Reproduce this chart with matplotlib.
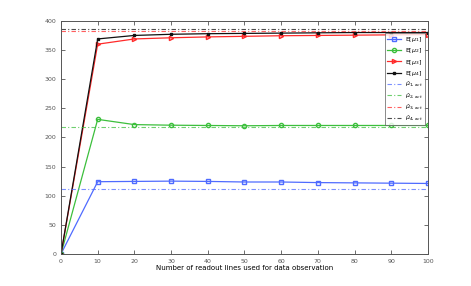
import numpy as np
import matplotlib.pyplot as plt

# lignes de lecture
lines = [0, 10, 20, 30, 40, 50, 60, 70, 80, 90, 100]

mu1 = [0, 124, 124.5, 125, 124.5, 123.5, 123.5, 122.5, 122, 121.5, 121]
mu2 = [0, 231, 222, 221, 220.5, 220, 220.5, 220.5, 220.5, 220.5, 220.5]
mu3 = [0, 360, 369, 371, 372.5, 373.5, 374.5, 375, 375.5, 376, 376.5]
mu4 = [0, 369, 375, 377, 378, 378.5, 379, 379.5, 380, 380, 380]

act = [111, 218, 382, 386]

colors = ['#4f6bff', '#3cbf3c', '#ff2a2a', '#111111']
markers = ['s', 'o', '>', 's']
sizes = [3, 3, 3, 2]
labels = [r'E[$\mu_1$]', r'E[$\mu_2$]', r'E[$\mu_3$]', r'E[$\mu_4$]']
act_labels = [r'$\hat{\mu}_{1,act}$', r'$\hat{\mu}_{2,act}$',
              r'$\hat{\mu}_{3,act}$', r'$\hat{\mu}_{4,act}$']

fig = plt.figure(figsize=(4.71, 2.86), dpi=100)
ax = fig.add_axes([0.1295, 0.112, 0.779, 0.815])

series = [mu1, mu2, mu3, mu4]
for i in range(4):
    mfc = colors[i] if i == 3 else 'none'
    ax.plot(lines, series[i], color=colors[i], marker=markers[i], ms=sizes[i],
            mfc=mfc, mec=colors[i], lw=0.9, label=labels[i])
for i in range(4):
    ax.plot([lines[0], lines[-1]], [act[i], act[i]], color=colors[i],
            ls=(0, (4, 2, 1, 2)), lw=0.8, alpha=0.75, label=act_labels[i])

ax.set_xlim(0, 100)
ax.set_ylim(0, 400)
ax.set_xticks(lines)
ax.set_yticks(np.arange(0, 401, 50))
ax.tick_params(direction='in', labelsize=4.5, colors='#555555', length=3,
               top=True, right=True, width=0.6)
for s in ax.spines.values():
    s.set_color('#555555')
    s.set_linewidth(0.7)
ax.set_xlabel('Number of readout lines used for data observation', fontsize=5,
              labelpad=0.5)

leg = ax.legend(loc='upper right', fontsize=4.5, frameon=True, fancybox=False,
                edgecolor='#555555', borderpad=0.3, labelspacing=0.35,
                handlelength=2.2, handletextpad=0.6, bbox_to_anchor=(1.0, 0.96))
leg.get_frame().set_linewidth(0.6)

fig.savefig('out.png', dpi=100)
